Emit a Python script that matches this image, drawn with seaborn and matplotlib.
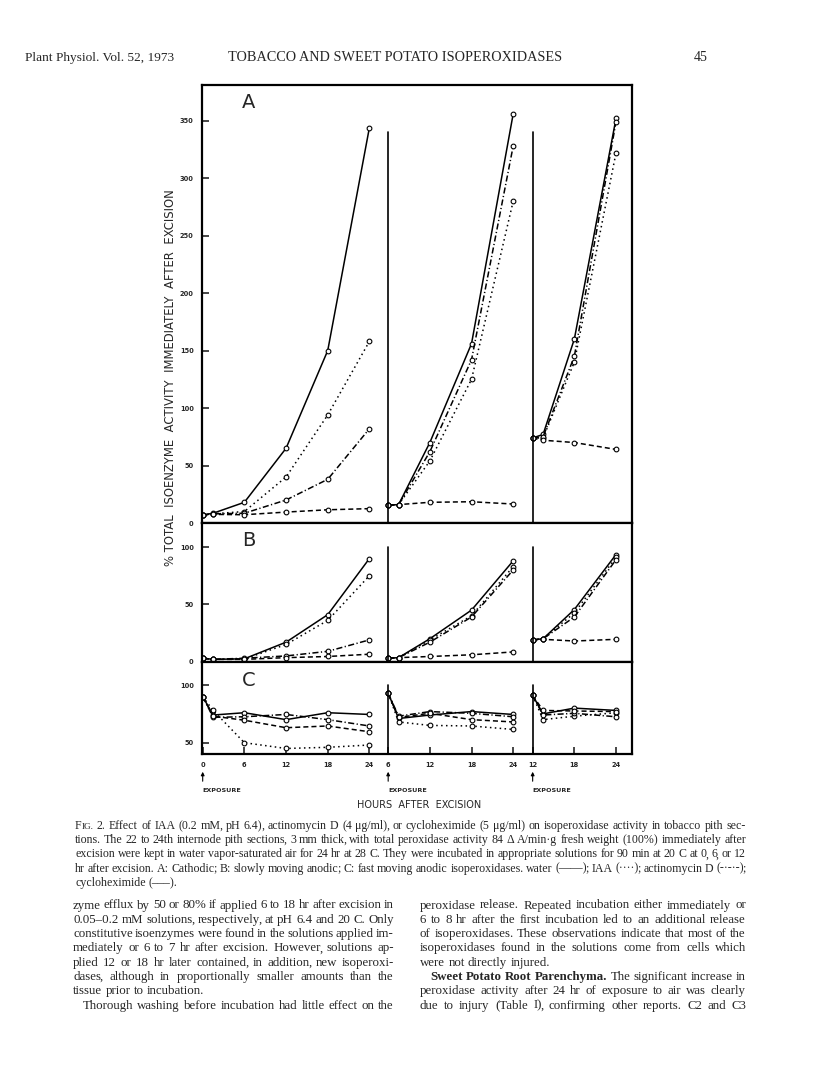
import matplotlib
matplotlib.use("Agg")
import matplotlib.pyplot as plt
import matplotlib.transforms as mtransforms
import pandas as pd
import seaborn as sns

W, H = 816, 1089
SANS = ["DejaVu Sans"]
SERIF = "Liberation Serif"

treatments = ["water", "IAA", "actinomycin D", "cycloheximide"]

# hours after excision; sections were put into solution at 0, 6 or 12 hr
hours = [0, 1.5, 6, 12, 18, 24, 6, 7.5, 12, 18, 24, 12, 13.5, 18, 24]
segment = [1, 1, 1, 1, 1, 1, 2, 2, 2, 2, 2, 3, 3, 3, 3]

# A: cathodic isoperoxidases (% of total activity right after excision)
A_water = [7, 8.5, 18, 65, 150, 344, 15.5, 16, 70, 156, 356, 74, 77, 160, 352]
A_iaa = [7, 8, 10, 40, 94, 158, 15.5, 16, 54, 125, 280, 74, 74, 140, 322]
A_actino = [7, 8, 8.5, 20, 38, 82, 15.5, 16, 62, 142, 328, 74, 75, 145, 349]
A_cyclo = [7, 7.5, 7.2, 9.5, 11.5, 12.5, 15.5, 16, 18, 18.5, 16.5, 74, 72, 70, 64]

# B: slowly moving anodic
B_water = [3, 2, 2.5, 17, 41, 90, 3, 3.5, 20, 45, 88, 19, 20, 45.5, 93.5]
B_iaa = [3, 2, 2.3, 15, 36, 75, 3, 3.5, 19, 40, 83, 19, 20, 42.5, 91]
B_actino = [3, 2, 3, 5, 9, 19, 3, 3.5, 17, 39, 80, 19, 20, 39, 89]
B_cyclo = [3, 2, 2, 3.5, 4.5, 6.5, 3, 3.5, 4.5, 6, 8.5, 19, 19.5, 18, 19.5]

# C: fast moving anodic
C_water = [90, 74, 76, 70, 76, 74.5, 93, 71, 74, 77, 74.5, 91, 75, 80, 78]
C_iaa = [90, 78, 50, 45, 46, 48, 93, 68, 65, 64.5, 61.5, 91, 70, 73, 76]
C_actino = [90, 72, 72.5, 74.5, 70, 64.5, 93, 73, 77, 75.5, 72.5, 91, 74, 75.5, 72.5]
C_cyclo = [90, 73, 69.5, 63, 64.5, 59.5, 93, 72, 75.5, 70, 68, 91, 78, 77.5, 77]

panels = {
    "A": [A_water, A_iaa, A_actino, A_cyclo],
    "B": [B_water, B_iaa, B_actino, B_cyclo],
    "C": [C_water, C_iaa, C_actino, C_cyclo],
}

# shift of each exposure block along the shared x axis
seg_offset = {1: 0.0, 2: 20.7, 3: 35.5}
seg_start = {1: 0, 2: 6, 3: 12}

rows = []
for p, series in panels.items():
    for t, vals in zip(treatments, series):
        for h, s, v in zip(hours, segment, vals):
            rows.append({"panel": p, "treatment": t, "segment": s, "hour": h, "value": v})
df = pd.DataFrame(rows)
df["u"] = df["hour"] + df["segment"].map(seg_offset)

sns.set_theme(style="white")
plt.rcParams["font.family"] = SANS

fig = plt.figure(figsize=(W / 100, H / 100), dpi=100)


def box(l, t, r, b):
    return [l / W, 1 - b / H, (r - l) / W, (b - t) / H]


ax_a = fig.add_axes(box(202, 85, 632, 523))
ax_b = fig.add_axes(box(202, 523, 632, 662))
ax_c = fig.add_axes(box(202, 662, 632, 754))

dash_map = {"water": "", "IAA": (1, 2.2), "actinomycin D": (4, 1.6, 0.8, 1.6),
            "cycloheximide": (3.3, 2.0)}
marker_map = {t: "o" for t in treatments}

setup = {
    "A": (ax_a, (0, 381), [0, 50, 100, 150, 200, 250, 300, 350], 340, 102),
    "B": (ax_b, (-0.3, 121), [0, 50, 100], 100, 540),
    "C": (ax_c, (40.2, 120), [50, 100], 100, 680),
}

for p, (ax, ylim, yticks, divider_top, letter_y) in setup.items():
    sub = df[df["panel"] == p]
    sns.lineplot(data=sub, x="u", y="value", style="treatment", style_order=treatments,
                 units="segment", estimator=None, sort=False, dashes=dash_map,
                 markers=marker_map, color="black", lw=1.1, ms=3.4, legend=False, ax=ax)
    for ln in ax.lines:
        ln.set_markerfacecolor("white")
        ln.set_markeredgecolor("black")
        ln.set_markeredgewidth(0.8)
    for s in (2, 3):
        xd = seg_start[s] + seg_offset[s]
        ax.plot([xd, xd], [ylim[0], divider_top], color="black", lw=1.2)
    ax.set_xlim(-0.1, 61.8)
    ax.set_ylim(*ylim)
    ax.set_yticks(yticks)
    ax.set_yticklabels([str(v) for v in yticks], fontsize=4.8, fontweight="bold")
    ax.tick_params(axis="y", direction="in", length=5, width=1.2, pad=6, left=True)
    ax.set_xlabel("")
    ax.set_ylabel("")
    ax.set_facecolor("white")
    for sp in ax.spines.values():
        sp.set_color("black")
        sp.set_linewidth(1.6)
    if p != "C":
        ax.tick_params(axis="x", bottom=False, labelbottom=False)
    fig.text(249 / W, 1 - letter_y / H, p, fontsize=14, ha="center", va="center")

xt_pos = [h + seg_offset[s] for h, s in zip(hours, segment) if h not in (1.5, 7.5, 13.5)]
xt_lab = [str(h) for h in hours if h not in (1.5, 7.5, 13.5)]
ax_c.set_xticks(xt_pos)
ax_c.set_xticklabels(xt_lab, fontsize=4.8, fontweight="bold")
ax_c.tick_params(axis="x", direction="in", length=5, width=1.2, pad=6, bottom=True)

# exposure arrows
trans = mtransforms.blended_transform_factory(ax_c.transData, fig.transFigure)
for s in (1, 2, 3):
    xs = seg_start[s] + seg_offset[s]
    ax_c.annotate("", xy=(xs, 1 - 769 / H), xytext=(xs, 1 - 784 / H),
                  xycoords=trans, textcoords=trans, annotation_clip=False,
                  arrowprops=dict(arrowstyle="-|>", lw=0.8, color="black", mutation_scale=5))
    ax_c.text(xs, 1 - 791 / H, "EXPOSURE", transform=trans, fontsize=4.6,
              fontweight="bold", ha="left", va="center")

fig.text(419 / W, 1 - 805 / H, "HOURS  AFTER  EXCISION", fontsize=7, ha="center", va="center")
fig.text(170 / W, 1 - 378 / H,
         "% TOTAL  ISOENZYME  ACTIVITY  IMMEDIATELY  AFTER  EXCISION",
         fontsize=8.4, rotation=90, ha="center", va="center")

# page header
fig.text(25 / W, 1 - 61 / H, "Plant Physiol. Vol. 52, 1973", fontsize=9.6,
         family=SERIF, va="baseline")
fig.text(228 / W, 1 - 61 / H, "TOBACCO AND SWEET POTATO ISOPEROXIDASES", fontsize=10.3,
         family=SERIF, va="baseline")
fig.text(708 / W, 1 - 61 / H, "45", fontsize=10, family=SERIF, va="baseline", ha="right")

renderer = fig.canvas.get_renderer()


def word_pieces(w, size):
    # "*" bold word, "^" small caps word; a trailing comma/semicolon is drawn
    # on its own so the hinted comma does not pull the word off the baseline
    weight = "normal"
    if w.startswith("*"):
        w, weight = w[1:], "bold"
    if w.startswith("^"):
        return [(w[1], size, weight, 0), (w[2:], size * 0.78, weight, 0)]
    if len(w) > 1 and w[-1] in ",;":
        return [(w[:-1], size, weight, 0), (w[-1], size, weight, -1.2)]
    return [(w, size, weight, 0)]


def put_line(text, x0, x1, y, size, justify=True):
    words = []
    for w in text.split():
        pieces = word_pieces(w, size)
        arts = [fig.text(0, 1 - y / H, s, fontsize=fs, family=SERIF, fontweight=fw,
                         va="baseline") for s, fs, fw, _ in pieces]
        widths = [a.get_window_extent(renderer).width + sh for a, (_, _, _, sh) in zip(arts, pieces)]
        words.append((arts, widths, [sh for *_, sh in pieces]))
    total = sum(sum(ws) for _, ws, _ in words)
    space = size * 100 / 72 * 0.25
    gap = space
    if justify and len(words) > 1:
        gap = max((x1 - x0 - total) / (len(words) - 1), space * 0.6)
    x = x0
    for arts, ws, shifts in words:
        for a, wd, sh in zip(arts, ws, shifts):
            a.set_x((x + sh) / W)
            x += wd
        x += gap


caption = [
    "^FIG. 2. Effect of IAA (0.2 mM, pH 6.4), actinomycin D (4 μg/ml), or cycloheximide (5 μg/ml) on isoperoxidase activity in tobacco pith sec-",
    "tions. The 22 to 24th internode pith sections, 3 mm thick, with total peroxidase activity 84 Δ A/min·g fresh weight (100%) immediately after",
    "excision were kept in water vapor-saturated air for 24 hr at 28 C. They were incubated in appropriate solutions for 90 min at 20 C at 0, 6, or 12",
    "hr after excision. A: Cathodic; B: slowly moving anodic; C: fast moving anodic isoperoxidases. water (——); IAA (····); actinomycin D (-·-·-);",
    "cycloheximide (–––).",
]
for i, line in enumerate(caption):
    put_line(line, 75, 746, 829 + i * 14.2, 8.6, justify=i < len(caption) - 1)

left_col = [
    ("zyme efflux by 50 or 80% if applied 6 to 18 hr after excision in", True, 0),
    ("0.05–0.2 mM solutions, respectively, at pH 6.4 and 20 C. Only", True, 0),
    ("constitutive isoenzymes were found in the solutions applied im-", True, 0),
    ("mediately or 6 to 7 hr after excision. However, solutions ap-", True, 0),
    ("plied 12 or 18 hr later contained, in addition, new isoperoxi-", True, 0),
    ("dases, although in proportionally smaller amounts than the", True, 0),
    ("tissue prior to incubation.", False, 0),
    ("Thorough washing before incubation had little effect on the", True, 10),
]
right_col = [
    ("peroxidase release. Repeated incubation either immediately or", True, 0),
    ("6 to 8 hr after the first incubation led to an additional release", True, 0),
    ("of isoperoxidases. These observations indicate that most of the", True, 0),
    ("isoperoxidases found in the solutions come from cells which", True, 0),
    ("were not directly injured.", False, 0),
    ("*Sweet *Potato *Root *Parenchyma. The significant increase in", True, 10),
    ("peroxidase activity after 24 hr of exposure to air was clearly", True, 0),
    ("due to injury (Table I), confirming other reports. C2 and C3", True, 0),
]
for i, (line, just, ind) in enumerate(left_col):
    put_line(line, 73 + ind, 394, 908.5 + i * 14.3, 9.3, justify=just)
for i, (line, just, ind) in enumerate(right_col):
    put_line(line, 420 + ind, 746, 908.5 + i * 14.3, 9.3, justify=just)

fig.savefig("out.png", dpi=100, facecolor="white")
